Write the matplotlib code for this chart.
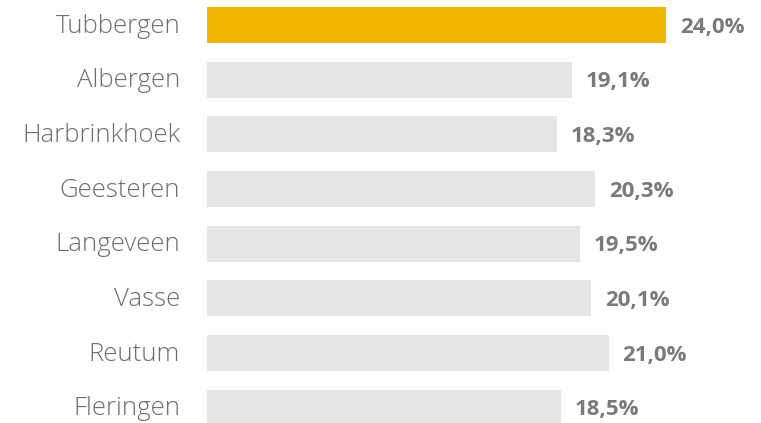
import matplotlib.pyplot as plt

# data
places = ['Tubbergen', 'Albergen', 'Harbrinkhoek', 'Geesteren',
          'Langeveen', 'Vasse', 'Reutum', 'Fleringen']
values = [24.0, 19.1, 18.3, 20.3, 19.5, 20.1, 21.0, 18.5]
colors = ['#F0B600'] + ['#E6E6E6'] * 7

fig = plt.figure(figsize=(7.61, 4.23), dpi=100)
ax = fig.add_axes([207 / 761, 0, 1 - 207 / 761, 1])

pos = list(range(len(places)))
ax.barh(pos, values, height=0.66, color=colors)

ax.set_xlim(0, 28.97)
ax.set_ylim(7.28, -0.457)

for y, name in zip(pos, places):
    ax.text(-1.4, y + 0.02, name, ha='right', va='center', fontsize=18.5,
            family='Open Sans', fontweight='light', color='#6E6E6E')

for y, v in zip(pos, values):
    ax.text(v + 0.72, y + 0.04, ('%.1f%%' % v).replace('.', ','),
            ha='left', va='center', fontsize=16, family='Open Sans',
            fontweight='bold', color='#7A7A7A')

ax.axis('off')
fig.savefig('out.png', dpi=100)
